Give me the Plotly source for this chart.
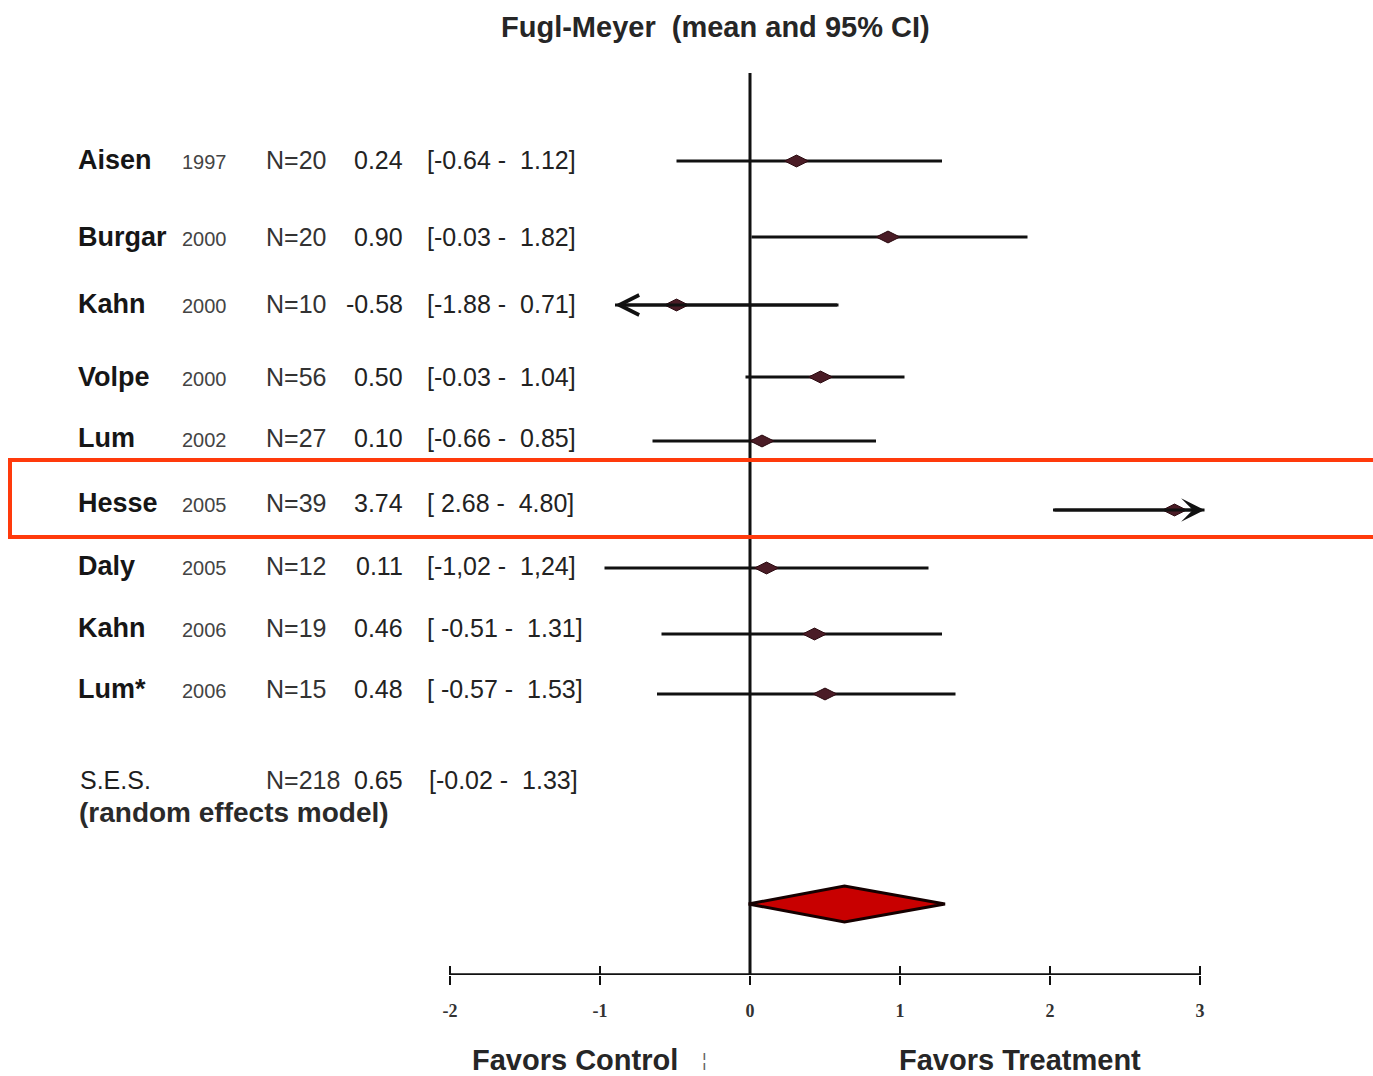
import plotly.graph_objects as go

# ---------------- data ----------------
study_names = ["Aisen", "Burgar", "Kahn", "Volpe", "Lum", "Hesse", "Daly", "Kahn", "Lum*"]
study_years = ["1997", "2000", "2000", "2000", "2002", "2005", "2005", "2006", "2006"]
study_n = ["N=20", "N=20", "N=10", "N=56", "N=27", "N=39", "N=12", "N=19", "N=15"]
study_mean_txt = ["0.24", "0.90", "-0.58", "0.50", "0.10", "3.74", "0.11", "0.46", "0.48"]
study_ci_txt = ["[-0.64 -  1.12]", "[-0.03 -  1.82]", "[-1.88 -  0.71]", "[-0.03 -  1.04]",
                "[-0.66 -  0.85]", "[ 2.68 -  4.80]", "[-1,02 -  1,24]", "[ -0.51 -  1.31]",
                "[ -0.57 -  1.53]"]

# positions of the marks as drawn in the picture (effect-size units)
plot_mean = [0.31, 0.92, -0.49, 0.47, 0.08, 2.83, 0.11, 0.43, 0.50]
plot_lo = [-0.49, 0.01, -0.90, -0.03, -0.65, 2.02, -0.97, -0.59, -0.62]
plot_hi = [1.28, 1.85, 0.59, 1.03, 0.84, 3.03, 1.19, 1.28, 1.37]
arrow_dir = [0, 0, -1, 0, 0, 1, 0, 0, 0]   # -1 arrow to the left, 1 to the right

summary_label = "S.E.S."
summary_sub = "(random effects model)"
summary_n = "N=218"
summary_mean_txt = "0.65"
summary_ci_txt = "[-0.02 -  1.33]"
summary_mean = 0.63
summary_lo = -0.01
summary_hi = 1.30

tick_values = [-2, -1, 0, 1, 2, 3]
tick_labels = ["-2", "-1", "0", "1", "2", "3"]

title_text = "Fugl-Meyer  (mean and 95% CI)"
left_label = "Favors Control"
right_label = "Favors Treatment"

# ---------------- layout helpers ----------------
W, H = 1373, 1076
AXIS_Y = 975                       # pixel row of the x axis
row_y = [161, 237, 305, 377, 441, 510, 568, 634, 694]
label_y = [160, 237, 304, 377, 438, 503, 566, 628, 689]
diamond_y = 904
diamond_half = 18

SANS = "Liberation Sans, Arial, sans-serif"
INK = "#1e1e1e"
LINE = "#111111"


def px(x):
    return x / W


def py(y):
    return 1 - y / H


fig = go.Figure()

# CI lines
for lo, hi, m, y in zip(plot_lo, plot_hi, plot_mean, row_y):
    fig.add_trace(go.Scatter(x=[lo, hi], y=[y, y], mode="lines",
                             line=dict(color=LINE, width=3),
                             hoverinfo="skip", showlegend=False))

# arrows for truncated intervals
for lo, hi, y, d in zip(plot_lo, plot_hi, row_y, arrow_dir):
    if d == -1:
        fig.add_annotation(x=lo, y=y, ax=hi, ay=y, xref="x", yref="y", axref="x", ayref="y",
                           showarrow=True, arrowhead=5, arrowsize=1.3, arrowwidth=3,
                           arrowcolor=LINE, text="")
    elif d == 1:
        fig.add_annotation(x=hi, y=y, ax=lo, ay=y, xref="x", yref="y", axref="x", ayref="y",
                           showarrow=True, arrowhead=3, arrowsize=1.3, arrowwidth=3,
                           arrowcolor=LINE, text="")

# point estimates
fig.add_trace(go.Scatter(x=plot_mean, y=row_y, mode="markers",
                         marker=dict(symbol="diamond-wide", size=17, color="#4a1c26",
                                     line=dict(color="#2a0a10", width=1)),
                         hoverinfo="skip", showlegend=False))

# summary diamond
fig.add_trace(go.Scatter(
    x=[summary_lo, summary_mean, summary_hi, summary_mean, summary_lo],
    y=[diamond_y, diamond_y - diamond_half, diamond_y, diamond_y + diamond_half, diamond_y],
    mode="lines", fill="toself", fillcolor="#c80000",
    line=dict(color="#150000", width=3), hoverinfo="skip", showlegend=False))

# invisible trace for the overlaid tick axis
fig.add_trace(go.Scatter(x=[0], y=[AXIS_Y], xaxis="x2", yaxis="y", mode="markers",
                         marker=dict(opacity=0), hoverinfo="skip", showlegend=False))

# zero line and x-axis line
fig.add_shape(type="line", x0=0, x1=0, y0=73, y1=AXIS_Y, xref="x", yref="y",
              line=dict(color=LINE, width=3), layer="below")
fig.add_shape(type="line", x0=tick_values[0], x1=tick_values[-1], y0=AXIS_Y, y1=AXIS_Y,
              xref="x", yref="y", line=dict(color=LINE, width=3.5))

# red highlight box around Hesse row
fig.add_shape(type="rect", x0=px(10), x1=1.02, y0=row_y[5] - 50, y1=row_y[5] + 27,
              xref="paper", yref="y", line=dict(color="#ff3a0c", width=4))

# ---------------- text ----------------
def txt(x, y, s, size=25, bold=False, color=INK, anchor="left", family=SANS):
    fig.add_annotation(x=px(x), y=py(y), xref="paper", yref="paper", text=s,
                       showarrow=False, xanchor=anchor, yanchor="middle",
                       font=dict(family=family, size=size, color=color,
                                 weight="bold" if bold else "normal"))


for i in range(len(study_names)):
    y = label_y[i]
    txt(76, y, study_names[i], size=27, bold=True, color="#161616")
    txt(180, y + 2, study_years[i], size=20, color="#444444")
    txt(264, y, study_n[i], size=25, color="#333333")
    txt(405, y, study_mean_txt[i], size=25, color="#222222", anchor="right")
    txt(425, y, study_ci_txt[i], size=25, color="#222222")

txt(78, 780, summary_label, size=25, color="#1e1e1e")
txt(77, 812, summary_sub, size=28, bold=True, color="#2a2a2a")
txt(264, 780, summary_n, size=25, color="#333333")
txt(405, 780, summary_mean_txt, size=25, color="#222222", anchor="right")
txt(427, 780, summary_ci_txt, size=25, color="#222222")

txt(716, 27, title_text, size=29, bold=True, color="#262626", anchor="center")
txt(575, 1060, left_label, size=29, bold=True, color="#262626", anchor="center")
txt(1020, 1060, right_label, size=29, bold=True, color="#262626", anchor="center")
txt(704, 1060, "¦", size=18, color="#666666", anchor="center")

# ---------------- axes ----------------
x_range = [(0 - 750) / 150, (W - 750) / 150]
fig.update_layout(
    width=W, height=H,
    margin=dict(l=0, r=0, t=0, b=0),
    paper_bgcolor="white", plot_bgcolor="white",
    showlegend=False,
    xaxis=dict(range=x_range, domain=[0, 1], anchor="y", showgrid=False, zeroline=False,
               showline=False, tickmode="array", tickvals=tick_values, ticktext=tick_labels,
               ticks="outside", ticklen=9, tickwidth=2, tickcolor=LINE,
               ticklabelstandoff=10,
               tickfont=dict(family="Liberation Serif, Times New Roman, serif", size=18,
                             color="#333333", weight="bold"),
               fixedrange=True),
    xaxis2=dict(range=x_range, domain=[0, 1], anchor="y", overlaying="x", side="bottom",
                showgrid=False, zeroline=False, showline=False, tickmode="array",
                tickvals=tick_values, ticks="inside", ticklen=9, tickwidth=2,
                tickcolor=LINE, showticklabels=False, fixedrange=True),
    yaxis=dict(range=[AXIS_Y, 0], domain=[1 - AXIS_Y / H, 1], showgrid=False, zeroline=False,
               showline=False, showticklabels=False, ticks="", fixedrange=True),
)

fig.write_html("out.html", config={"displayModeBar": False},
               post_script="document.body.style.margin='0px';")
